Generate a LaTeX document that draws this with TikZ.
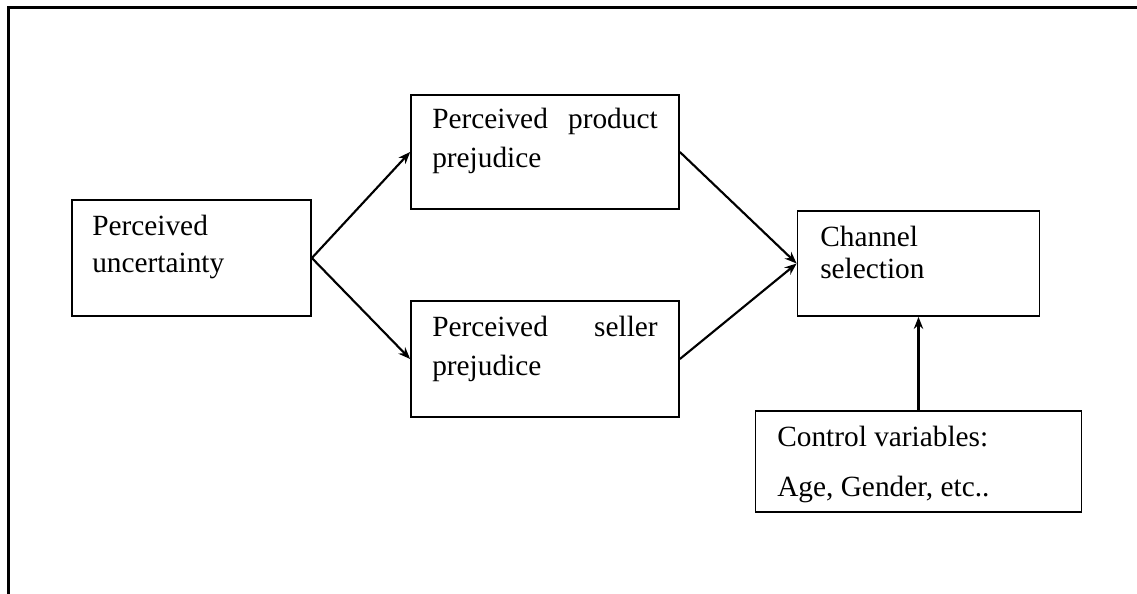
\documentclass[tikz,border=0pt]{standalone}
\usepackage{fontspec}
\setmainfont{Liberation Serif}
\usetikzlibrary{arrows.meta}
\begin{document}
\begin{tikzpicture}[x=0.75pt,y=-0.75pt,
  box/.style={draw,line width=1.3pt,rectangle,inner sep=0pt},
  txt/.style={inner sep=0pt,font=\fontsize{22}{26}\selectfont},
  arr/.style={line width=1.6pt,-{Stealth[length=9pt,width=7pt]}},
  frame/.style={line width=2pt}]
\useasboundingbox (0,0) rectangle (1137,593);
% outer frame (top and left sides)
\coordinate (fbl) at (8.5,594);
\coordinate (ftl) at (8.5,7.7);
\coordinate (ftr) at (1138,7.7);
\draw[frame] (fbl) -- (ftl) -- (ftr);
% boxes
\node[box,minimum width=239*0.75pt,minimum height=116*0.75pt] (U) at (191.5,258) {};
\node[box,minimum width=268*0.75pt,minimum height=114*0.75pt] (P) at (545,152) {};
\node[box,minimum width=268*0.75pt,minimum height=116*0.75pt] (S) at (545,359) {};
\node[box,minimum width=242*0.75pt,minimum height=105*0.75pt] (C) at (918.5,263.5) {};
\node[box,minimum width=326*0.75pt,minimum height=101*0.75pt] (K) at (918.5,461.5) {};
% texts
\node[txt,anchor=base west] (u1) at (92,235) {Perceived};
\node[txt,anchor=base west] (u2) at (92,272) {uncertainty};
\node[txt,anchor=base west] (p1) at (432,128) {Perceived};
\node[txt,anchor=base east] (p2) at (658,128) {product};
\node[txt,anchor=base west] (p3) at (432,167) {prejudice};
\node[txt,anchor=base west] (s1) at (432,336.7) {Perceived};
\node[txt,anchor=base east] (s2) at (658,336.7) {seller};
\node[txt,anchor=base west] (s3) at (432,375) {prejudice};
\node[txt,anchor=base west] (c1) at (820,246.7) {Channel};
\node[txt,anchor=base west] (c2) at (820,278) {selection};
\node[txt,anchor=base west] (k1) at (777,446) {Control variables:};
\node[txt,anchor=base west] (k2) at (777,496) {Age, Gender, etc..};
% connectors
\draw[arr] (U.east) -- (P.west);
\draw[arr] (U.east) -- (S.west);
\draw[arr] (P.east) -- (C.west);
\draw[arr] (S.east) -- (C.west);
\draw[arr] (K.north) -- (C.south);
\end{tikzpicture}
\end{document}
